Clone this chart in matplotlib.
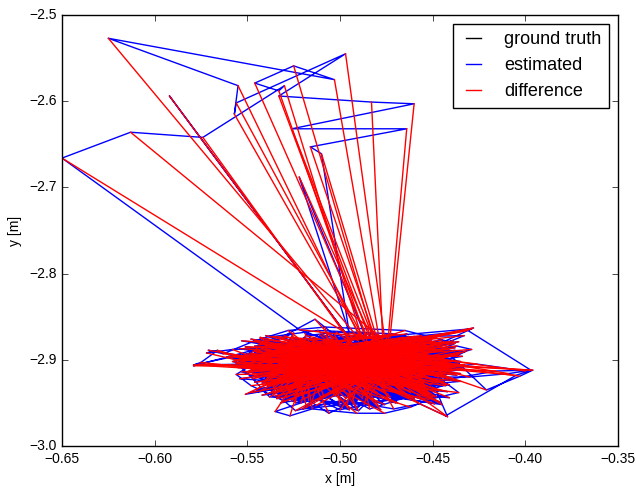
import matplotlib
matplotlib.use("Agg")
import matplotlib.pyplot as plt

plt.style.use("classic")
plt.rcParams['font.family'] = ['Liberation Sans', 'DejaVu Sans']
plt.rcParams['font.size'] = 10

# ---------------- data ----------------
# estimated trajectory (x, y) in metres
est_x = [
    # cluster, part A
    -0.462, -0.537, -0.470, -0.553, -0.495, -0.548, -0.579, -0.575, -0.566, -0.572,
    -0.558, -0.545, -0.525, -0.541, -0.532, -0.520, -0.506, -0.488, -0.480, -0.455,
    -0.470, -0.512, -0.536, -0.517, -0.456, -0.437, -0.428, -0.447, -0.440, -0.421,
    -0.403, -0.396, -0.416, -0.450, -0.442, -0.457, -0.471, -0.498, -0.513, -0.524,
    -0.530, -0.548, -0.556, -0.528, -0.489, -0.462, -0.445, -0.466, -0.494, -0.515,
    -0.533, -0.518, -0.502, -0.480, -0.467, -0.452, -0.460, -0.522,
    # upper excursion
    -0.650, -0.613, -0.574, -0.530, -0.533, -0.546, -0.525, -0.503, -0.625, -0.555,
    -0.557, -0.556, -0.497, -0.533, -0.483, -0.460, -0.526, -0.464, -0.516, -0.510,
    # cluster, part B
    -0.495, -0.522, -0.486, -0.458, -0.433, -0.441, -0.465, -0.508, -0.528, -0.546,
    -0.563, -0.571, -0.551, -0.543, -0.536, -0.527, -0.512, -0.500, -0.487, -0.474,
    -0.460, -0.447, -0.430, -0.409, -0.400, -0.426, -0.451, -0.470, -0.485, -0.503,
    -0.521, -0.535, -0.527, -0.515, -0.491, -0.476, -0.462, -0.452, -0.436, -0.444,
    -0.458, -0.472, -0.495, -0.592, -0.495, -0.503, -0.5135, -0.530, -0.540, -0.557,
    -0.547, -0.538, -0.525, -0.509, -0.494, -0.477, -0.462, -0.448, -0.437, -0.429,
    -0.444, -0.466, -0.484, -0.500, -0.520, -0.538, -0.523, -0.506, -0.490,
    # cluster, part C
    -0.540, -0.462, -0.505, -0.447, -0.528, -0.481, -0.552, -0.470, -0.515, -0.438,
    -0.497, -0.533, -0.458, -0.519, -0.476, -0.544, -0.489, -0.452, -0.526, -0.466,
    -0.510, -0.549, -0.473, -0.435, -0.502, -0.538, -0.459, -0.521, -0.484, -0.443,
    -0.530, -0.468, -0.512, -0.556, -0.491, -0.449, -0.524, -0.478, -0.507, -0.541,
    -0.455, -0.517, -0.486, -0.432, -0.534, -0.499, -0.463, -0.546, -0.474, -0.513,
    -0.450, -0.527, -0.492, -0.560, -0.469, -0.504, -0.439, -0.536, -0.480, -0.518,
    -0.457, -0.545, -0.495, -0.471, -0.523, -0.441, -0.509, -0.550, -0.483, -0.464,
    -0.531, -0.500, -0.446, -0.516, -0.477, -0.539, -0.461, -0.493, -0.525, -0.453,
    -0.506, -0.542, -0.472, -0.436, -0.520, -0.487, -0.558, -0.460, -0.511, -0.479,
    -0.535, -0.465, -0.498, -0.444, -0.529, -0.482, -0.547, -0.454, -0.514, -0.490,
    -0.522, -0.456, -0.537, -0.485, -0.448, -0.508, -0.543, -0.467, -0.496, -0.532,
    -0.475, -0.518, -0.440, -0.503, -0.554, -0.462, -0.527, -0.488, -0.451, -0.513,
    -0.545, -0.470, -0.494, -0.434, -0.529, -0.481, -0.510, -0.457, -0.539, -0.473,
    -0.501, -0.449, -0.524, -0.486, -0.561, -0.466, -0.515, -0.442, -0.535, -0.491,
    -0.458, -0.528, -0.476, -0.506, -0.445, -0.548, -0.484, -0.520, -0.463, -0.497,
    -0.534, -0.453, -0.511, -0.471, -0.540, -0.489, -0.437, -0.523, -0.479, -0.552,
    -0.468, -0.504, -0.447, -0.531, -0.493, -0.459, -0.517, -0.483, -0.543, -0.461,
    -0.514, -0.478, -0.536, -0.450, -0.499, -0.526, -0.465, -0.541, -0.487, -0.439,
    -0.521, -0.474, -0.555, -0.496, -0.443, -0.512, -0.469, -0.533, -0.480, -0.508,
    -0.460, -0.538, -0.490, -0.452, -0.519, -0.477, -0.549, -0.502, -0.466, -0.527,
    # cluster, part D
    -0.551, -0.447, -0.538, -0.436, -0.546, -0.452, -0.533, -0.441, -0.555, -0.458,
    -0.542, -0.444, -0.529, -0.433, -0.548, -0.455, -0.536, -0.449, -0.544, -0.439,
    -0.531, -0.460, -0.553, -0.446, -0.540, -0.437, -0.527, -0.451, -0.549, -0.443,
    -0.535, -0.456, -0.545, -0.434, -0.530, -0.448, -0.552, -0.440, -0.539, -0.457,
    -0.547, -0.438, -0.532, -0.453, -0.543, -0.445, -0.557, -0.435, -0.534, -0.450,
    -0.550, -0.442, -0.537, -0.459, -0.526, -0.431, -0.544, -0.454, -0.541, -0.446,
    -0.528, -0.440, -0.554, -0.451, -0.539, -0.436, -0.546, -0.457, -0.532, -0.443,
    -0.543, -0.449, -0.530, -0.438, -0.552, -0.455, -0.536, -0.445, -0.548, -0.433,
    -0.538, -0.452, -0.545, -0.441, -0.529, -0.458, -0.551, -0.437, -0.540, -0.447,
    -0.533, -0.444, -0.549, -0.454, -0.542, -0.439, -0.527, -0.450, -0.556, -0.436,
    -0.546, -0.456, -0.535, -0.442, -0.550, -0.448, -0.531, -0.434, -0.544, -0.453,
    -0.539, -0.437, -0.553, -0.451, -0.528, -0.445, -0.547, -0.459, -0.534, -0.440,
    -0.548, -0.450, -0.541, -0.435, -0.532, -0.456, -0.545, -0.443, -0.537, -0.448,
    -0.530, -0.441, -0.551, -0.457, -0.543, -0.438, -0.536, -0.452, -0.549, -0.446,
    -0.544, -0.435, -0.529, -0.449, -0.554, -0.442, -0.540, -0.455, -0.533, -0.439,
    # last samples (edge spikes)
    -0.578, -0.576, -0.579, -0.540, -0.429, -0.431, -0.397, -0.405, -0.443,
]
est_y = [
    -2.944, -2.918, -2.905, -2.914, -2.958, -2.892, -2.906, -2.903, -2.889, -2.892,
    -2.888, -2.887, -2.869, -2.925, -2.936, -2.943, -2.962, -2.944, -2.938, -2.905,
    -2.870, -2.866, -2.873, -2.929, -2.872, -2.868, -2.863, -2.882, -2.896, -2.935,
    -2.919, -2.912, -2.913, -2.926, -2.966, -2.951, -2.957, -2.947, -2.953, -2.959,
    -2.948, -2.930, -2.917, -2.880, -2.868, -2.878, -2.903, -2.932, -2.935, -2.918,
    -2.895, -2.872, -2.868, -2.871, -2.888, -2.895, -2.915, -2.865,
    -2.666, -2.636, -2.642, -2.582, -2.588, -2.579, -2.559, -2.575, -2.527, -2.582,
    -2.615, -2.602, -2.545, -2.594, -2.601, -2.603, -2.632, -2.632, -2.653, -2.661,
    -2.869, -2.688, -2.874, -2.873, -2.872, -2.879, -2.866, -2.862, -2.866, -2.878,
    -2.893, -2.889, -2.896, -2.914, -2.928, -2.938, -2.946, -2.958, -2.952, -2.947,
    -2.935, -2.920, -2.920, -2.916, -2.913, -2.905, -2.910, -2.930, -2.943, -2.940,
    -2.950, -2.960, -2.965, -2.957, -2.962, -2.962, -2.955, -2.946, -2.938, -2.925,
    -2.899, -2.880, -2.875, -2.594, -2.875, -2.871, -2.853, -2.872, -2.883, -2.901,
    -2.922, -2.943, -2.945, -2.934, -2.924, -2.912, -2.893, -2.888, -2.884, -2.888,
    -2.898, -2.910, -2.929, -2.935, -2.924, -2.908, -2.891, -2.878, -2.890,
    -2.872, -2.938, -2.891, -2.917, -2.934, -2.876, -2.905, -2.926, -2.948, -2.881,
    -2.944, -2.883, -2.899, -2.869, -2.952, -2.911, -2.930, -2.885, -2.902, -2.874,
    -2.921, -2.897, -2.943, -2.902, -2.878, -2.939, -2.888, -2.913, -2.957, -2.929,
    -2.887, -2.916, -2.936, -2.900, -2.871, -2.943, -2.925, -2.895, -2.880, -2.919,
    -2.928, -2.876, -2.947, -2.890, -2.908, -2.933, -2.873, -2.884, -2.940, -2.912,
    -2.879, -2.920, -2.903, -2.896, -2.950, -2.875, -2.912, -2.931, -2.886, -2.955,
    -2.935, -2.906, -2.877, -2.922, -2.884, -2.929, -2.941, -2.899, -2.915, -2.870,
    -2.909, -2.953, -2.880, -2.895, -2.933, -2.882, -2.923, -2.946, -2.877, -2.913,
    -2.870, -2.927, -2.916, -2.905, -2.889, -2.937, -2.902, -2.873, -2.930, -2.954,
    -2.942, -2.881, -2.924, -2.879, -2.916, -2.948, -2.890, -2.934, -2.874, -2.908,
    -2.882, -2.926, -2.909, -2.870, -2.943, -2.897, -2.936, -2.917, -2.951, -2.888,
    -2.932, -2.875, -2.905, -2.939, -2.899, -2.883, -2.920, -2.945, -2.878, -2.925,
    -2.894, -2.950, -2.872, -2.911, -2.944, -2.926, -2.884, -2.903, -2.930, -2.877,
    -2.918, -2.887, -2.950, -2.933, -2.897, -2.910, -2.876, -2.921, -2.889, -2.957,
    -2.876, -2.938, -2.899, -2.928, -2.912, -2.906, -2.882, -2.957, -2.944, -2.873,
    -2.945, -2.893, -2.871, -2.937, -2.887, -2.914, -2.905, -2.880, -2.922, -2.898,
    -2.913, -2.879, -2.927, -2.904, -2.941, -2.886, -2.947, -2.931, -2.874, -2.919,
    -2.901, -2.958, -2.885, -2.916, -2.927, -2.873, -2.935, -2.910, -2.893, -2.878,
    -2.947, -2.871, -2.896, -2.918, -2.909, -2.934, -2.883, -2.923, -2.940, -2.886,
    -2.890, -2.930, -2.959, -2.876, -2.903, -2.920, -2.898, -2.938, -2.882, -2.914,
    -2.885, -2.912, -2.931, -2.879, -2.903, -2.940, -2.874, -2.921, -2.909, -2.887,
    -2.925, -2.896, -2.882, -2.906, -2.938, -2.875, -2.915, -2.933, -2.891, -2.917,
    -2.907, -2.945, -2.896, -2.883, -2.924, -2.902, -2.939, -2.878, -2.913, -2.928,
    -2.878, -2.920, -2.934, -2.896, -2.889, -2.948, -2.903, -2.909, -2.927, -2.882,
    -2.916, -2.889, -2.901, -2.935, -2.875, -2.915, -2.896, -2.925, -2.944, -2.899,
    -2.893, -2.937, -2.919, -2.876, -2.948, -2.907, -2.882, -2.942, -2.900, -2.872,
    -2.936, -2.904, -2.887, -2.929, -2.911, -2.893, -2.926, -2.884, -2.950, -2.918,
    -2.881, -2.951, -2.920, -2.886, -2.899, -2.932, -2.939, -2.877, -2.912, -2.906,
    -2.923, -2.880, -2.892, -2.944, -2.929, -2.903, -2.885, -2.918, -2.877, -2.936,
    -2.900, -2.926, -2.910, -2.888, -2.941, -2.912, -2.896, -2.946, -2.904, -2.894,
    -2.889, -2.931, -2.926, -2.880, -2.915, -2.895, -2.947, -2.908, -2.884, -2.940,
    -2.930, -2.902, -2.878, -2.915, -2.890, -2.952, -2.919, -2.883, -2.935, -2.911,
    -2.876, -2.943, -2.906, -2.891, -2.937, -2.881, -2.898, -2.930, -2.921, -2.874,
    -2.911, -2.887, -2.940, -2.905, -2.880, -2.923, -2.933, -2.898, -2.895, -2.949,
    -2.897, -2.916, -2.905, -2.937, -2.922, -2.886, -2.890, -2.927, -2.942, -2.901,
    -2.906, -2.905, -2.907, -2.885, -2.864, -2.866, -2.912, -2.918, -2.965,
]

# ground truth trajectory (x, y) in metres, same time stamps
gt_x = [
    -0.500, -0.503, -0.506, -0.509, -0.512, -0.515, -0.518, -0.521, -0.524, -0.527,
    -0.529, -0.530, -0.531, -0.530, -0.528, -0.526, -0.523, -0.520, -0.516, -0.512,
    -0.508, -0.504, -0.500, -0.496, -0.492, -0.488, -0.484, -0.480, -0.477, -0.474,
    -0.472, -0.471, -0.471, -0.472, -0.474, -0.477, -0.480, -0.484, -0.488, -0.492,
    -0.496, -0.500, -0.503, -0.506, -0.508, -0.509, -0.509, -0.508, -0.506, -0.503,
    -0.499, -0.495, -0.491, -0.487, -0.483, -0.480, -0.478, -0.477,
    -0.490, -0.477, -0.495, -0.488, -0.486, -0.485, -0.482, -0.479, -0.490, -0.489,
    -0.488, -0.487, -0.476, -0.484, -0.477, -0.473, -0.482, -0.474, -0.481, -0.480,
    -0.479, -0.482, -0.486, -0.490, -0.494, -0.498, -0.502, -0.505, -0.507, -0.508,
    -0.507, -0.505, -0.502, -0.498, -0.494, -0.490, -0.486, -0.483, -0.481, -0.480,
    -0.480, -0.481, -0.483, -0.486, -0.490, -0.494, -0.498, -0.502, -0.506, -0.510,
    -0.513, -0.516, -0.518, -0.519, -0.519, -0.517, -0.514, -0.510, -0.506, -0.502,
    -0.498, -0.494, -0.496, -0.495, -0.497, -0.491, -0.489, -0.488, -0.488, -0.489,
    -0.491, -0.494, -0.497, -0.500, -0.503, -0.506, -0.509, -0.511, -0.512, -0.512,
    -0.511, -0.509, -0.506, -0.503, -0.500, -0.497, -0.495, -0.494, -0.494,
    -0.494, -0.496, -0.498, -0.500, -0.502, -0.504, -0.506, -0.508, -0.510, -0.512,
    -0.514, -0.516, -0.518, -0.519, -0.520, -0.521, -0.521, -0.520, -0.519, -0.517,
    -0.515, -0.513, -0.510, -0.507, -0.504, -0.501, -0.498, -0.495, -0.492, -0.489,
    -0.486, -0.483, -0.480, -0.477, -0.475, -0.473, -0.472, -0.471, -0.471, -0.472,
    -0.473, -0.475, -0.477, -0.480, -0.483, -0.486, -0.489, -0.492, -0.495, -0.498,
    -0.501, -0.504, -0.507, -0.510, -0.513, -0.516, -0.519, -0.522, -0.524, -0.526,
    -0.527, -0.528, -0.528, -0.527, -0.525, -0.523, -0.520, -0.517, -0.514, -0.511,
    -0.508, -0.505, -0.502, -0.499, -0.496, -0.493, -0.490, -0.487, -0.484, -0.481,
    -0.479, -0.477, -0.476, -0.476, -0.477, -0.479, -0.481, -0.484, -0.487, -0.490,
    -0.493, -0.496, -0.499, -0.502, -0.505, -0.508, -0.510, -0.512, -0.513, -0.513,
    -0.512, -0.510, -0.508, -0.505, -0.502, -0.499, -0.496, -0.493, -0.490, -0.487,
    -0.484, -0.482, -0.480, -0.479, -0.479, -0.480, -0.482, -0.485, -0.488, -0.491,
    -0.494, -0.497, -0.500, -0.503, -0.506, -0.509, -0.512, -0.515, -0.517, -0.519,
    -0.520, -0.521, -0.521, -0.520, -0.518, -0.516, -0.513, -0.510, -0.507, -0.504,
    -0.501, -0.498, -0.495, -0.492, -0.489, -0.486, -0.483, -0.481, -0.479, -0.478,
    -0.478, -0.479, -0.481, -0.483, -0.486, -0.489, -0.492, -0.495, -0.498, -0.501,
    -0.504, -0.507, -0.510, -0.513, -0.515, -0.517, -0.518, -0.518, -0.517, -0.515,
    -0.513, -0.510, -0.507, -0.504, -0.501, -0.498, -0.495, -0.492, -0.489, -0.487,
    -0.485, -0.484, -0.484, -0.485, -0.487, -0.489, -0.492, -0.495, -0.498, -0.501,
    -0.504, -0.506, -0.508, -0.509, -0.509, -0.508, -0.506, -0.503, -0.500, -0.497,
    -0.497, -0.494, -0.491, -0.488, -0.485, -0.483, -0.481, -0.480, -0.480, -0.481,
    -0.483, -0.486, -0.489, -0.492, -0.495, -0.498, -0.501, -0.504, -0.507, -0.510,
    -0.513, -0.515, -0.517, -0.518, -0.518, -0.517, -0.515, -0.512, -0.509, -0.506,
    -0.503, -0.500, -0.497, -0.494, -0.491, -0.488, -0.486, -0.485, -0.485, -0.486,
    -0.488, -0.491, -0.494, -0.497, -0.500, -0.503, -0.506, -0.509, -0.511, -0.513,
    -0.514, -0.514, -0.513, -0.511, -0.508, -0.505, -0.502, -0.499, -0.496, -0.493,
    -0.490, -0.487, -0.484, -0.482, -0.481, -0.481, -0.482, -0.484, -0.487, -0.490,
    -0.493, -0.496, -0.499, -0.502, -0.505, -0.508, -0.511, -0.514, -0.516, -0.517,
    -0.517, -0.516, -0.514, -0.511, -0.508, -0.505, -0.502, -0.499, -0.496, -0.493,
    -0.490, -0.488, -0.486, -0.485, -0.485, -0.486, -0.488, -0.491, -0.494, -0.497,
    -0.500, -0.503, -0.506, -0.509, -0.512, -0.514, -0.515, -0.515, -0.514, -0.512,
    -0.509, -0.506, -0.503, -0.500, -0.497, -0.494, -0.491, -0.488, -0.486, -0.484,
    -0.483, -0.483, -0.484, -0.486, -0.489, -0.492, -0.495, -0.498, -0.501, -0.504,
    -0.507, -0.510, -0.512, -0.513, -0.513, -0.512, -0.510, -0.507, -0.504, -0.501,
    -0.498, -0.495, -0.492, -0.490, -0.488, -0.487, -0.487, -0.488, -0.490, -0.492,
    -0.494, -0.496, -0.499, -0.502, -0.504, -0.506, -0.507, -0.508, -0.508,
]
gt_y = [
    -2.900, -2.902, -2.905, -2.907, -2.910, -2.912, -2.914, -2.916, -2.917, -2.915,
    -2.912, -2.908, -2.904, -2.900, -2.896, -2.892, -2.889, -2.886, -2.884, -2.882,
    -2.880, -2.879, -2.878, -2.879, -2.881, -2.883, -2.886, -2.889, -2.892, -2.896,
    -2.900, -2.904, -2.908, -2.912, -2.916, -2.919, -2.921, -2.922, -2.923, -2.922,
    -2.920, -2.918, -2.915, -2.911, -2.907, -2.903, -2.899, -2.895, -2.891, -2.888,
    -2.886, -2.885, -2.885, -2.886, -2.884, -2.882, -2.879, -2.876,
    -2.878, -2.876, -2.877, -2.876, -2.875, -2.875, -2.874, -2.874, -2.875, -2.875,
    -2.876, -2.876, -2.874, -2.875, -2.874, -2.874, -2.875, -2.875, -2.876, -2.876,
    -2.877, -2.879, -2.881, -2.883, -2.886, -2.889, -2.892, -2.896, -2.900, -2.904,
    -2.908, -2.912, -2.915, -2.917, -2.918, -2.917, -2.915, -2.912, -2.908, -2.904,
    -2.900, -2.896, -2.892, -2.889, -2.887, -2.886, -2.886, -2.887, -2.889, -2.892,
    -2.895, -2.899, -2.903, -2.907, -2.911, -2.915, -2.918, -2.920, -2.921, -2.921,
    -2.920, -2.918, -2.886, -2.875, -2.887, -2.915, -2.911, -2.907, -2.903, -2.899,
    -2.895, -2.892, -2.890, -2.889, -2.889, -2.890, -2.892, -2.895, -2.898, -2.901,
    -2.904, -2.906, -2.907, -2.907, -2.906, -2.904, -2.901, -2.898, -2.895,
    -2.895, -2.897, -2.899, -2.901, -2.903, -2.905, -2.907, -2.909, -2.911, -2.912,
    -2.913, -2.913, -2.912, -2.910, -2.908, -2.905, -2.902, -2.899, -2.896, -2.893,
    -2.890, -2.888, -2.886, -2.884, -2.883, -2.882, -2.882, -2.883, -2.884, -2.886,
    -2.888, -2.890, -2.893, -2.896, -2.899, -2.902, -2.905, -2.908, -2.911, -2.914,
    -2.917, -2.919, -2.921, -2.922, -2.923, -2.923, -2.922, -2.921, -2.919, -2.917,
    -2.915, -2.913, -2.911, -2.909, -2.906, -2.903, -2.900, -2.897, -2.894, -2.891,
    -2.888, -2.885, -2.882, -2.880, -2.878, -2.877, -2.877, -2.878, -2.879, -2.881,
    -2.883, -2.885, -2.888, -2.891, -2.894, -2.897, -2.900, -2.903, -2.906, -2.909,
    -2.912, -2.915, -2.918, -2.920, -2.922, -2.924, -2.925, -2.925, -2.924, -2.922,
    -2.920, -2.917, -2.914, -2.911, -2.908, -2.905, -2.902, -2.899, -2.896, -2.893,
    -2.890, -2.887, -2.885, -2.883, -2.882, -2.882, -2.883, -2.885, -2.887, -2.890,
    -2.893, -2.896, -2.899, -2.902, -2.905, -2.908, -2.911, -2.914, -2.916, -2.918,
    -2.919, -2.920, -2.920, -2.919, -2.917, -2.915, -2.912, -2.909, -2.906, -2.903,
    -2.900, -2.897, -2.894, -2.891, -2.889, -2.887, -2.886, -2.886, -2.887, -2.889,
    -2.891, -2.893, -2.896, -2.899, -2.902, -2.905, -2.908, -2.911, -2.914, -2.916,
    -2.918, -2.920, -2.921, -2.921, -2.920, -2.918, -2.916, -2.913, -2.910, -2.907,
    -2.904, -2.901, -2.898, -2.895, -2.892, -2.890, -2.888, -2.886, -2.885, -2.884,
    -2.884, -2.885, -2.886, -2.888, -2.890, -2.893, -2.896, -2.899, -2.902, -2.905,
    -2.908, -2.911, -2.914, -2.916, -2.918, -2.919, -2.919, -2.918, -2.916, -2.914,
    -2.911, -2.908, -2.905, -2.902, -2.899, -2.896, -2.893, -2.891, -2.889, -2.888,
    -2.888, -2.890, -2.892, -2.895, -2.898, -2.901, -2.904, -2.907, -2.910, -2.913,
    -2.915, -2.917, -2.918, -2.918, -2.917, -2.915, -2.912, -2.909, -2.906, -2.903,
    -2.900, -2.897, -2.894, -2.891, -2.888, -2.886, -2.884, -2.883, -2.883, -2.884,
    -2.886, -2.888, -2.891, -2.894, -2.897, -2.900, -2.903, -2.906, -2.909, -2.912,
    -2.914, -2.916, -2.917, -2.917, -2.916, -2.914, -2.911, -2.908, -2.905, -2.902,
    -2.899, -2.896, -2.893, -2.890, -2.888, -2.886, -2.885, -2.885, -2.886, -2.888,
    -2.890, -2.893, -2.896, -2.899, -2.902, -2.905, -2.908, -2.911, -2.913, -2.915,
    -2.916, -2.916, -2.915, -2.913, -2.910, -2.907, -2.904, -2.901, -2.898, -2.895,
    -2.892, -2.889, -2.887, -2.885, -2.884, -2.884, -2.885, -2.887, -2.889, -2.892,
    -2.895, -2.898, -2.901, -2.904, -2.907, -2.910, -2.912, -2.914, -2.915, -2.915,
    -2.914, -2.912, -2.910, -2.907, -2.904, -2.901, -2.898, -2.895, -2.892, -2.890,
    -2.888, -2.887, -2.886, -2.886, -2.887, -2.889, -2.891, -2.894, -2.897, -2.900,
    -2.903, -2.906, -2.909, -2.911, -2.913, -2.914, -2.914, -2.913, -2.911, -2.909,
    -2.906, -2.903, -2.900, -2.897, -2.894, -2.891, -2.889, -2.888, -2.888, -2.889,
    -2.891, -2.894, -2.897, -2.900, -2.903, -2.906, -2.908, -2.910, -2.911, -2.912,
    -2.911, -2.909, -2.906, -2.903, -2.900, -2.898, -2.897, -2.898, -2.900,
]

labels = ["ground truth", "estimated", "difference"]
x_ticks = [-0.65, -0.60, -0.55, -0.50, -0.45, -0.40, -0.35]
y_ticks = [-3.0, -2.9, -2.8, -2.7, -2.6, -2.5]

# ---------------- plot ----------------
fig = plt.figure(figsize=(6.36, 4.88), dpi=100, facecolor='white')
ax = fig.add_subplot(111)
fig.subplots_adjust(left=62/636, right=618/636, bottom=42/488, top=473/488)

ax.plot(gt_x, gt_y, '-', color='black', lw=1.0, label=labels[0])
ax.plot(est_x, est_y, '-', color='blue', lw=1.0, label=labels[1])
n = min(len(gt_x), len(est_x))
for i in range(n):
    ax.plot([gt_x[i], est_x[i]], [gt_y[i], est_y[i]], '-', color='red', lw=1.0,
            label=labels[2] if i == 0 else None)

ax.set_xlim(x_ticks[0], x_ticks[-1])
ax.set_ylim(y_ticks[0], y_ticks[-1])
ax.set_xticks(x_ticks)
ax.set_yticks(y_ticks)
ax.set_xlabel('x [m]')
ax.set_ylabel('y [m]')
ax.legend(loc='upper right', fontsize=13, handlelength=1.45, handletextpad=1.0)

fig.savefig('out.png', dpi=100, facecolor='white')
